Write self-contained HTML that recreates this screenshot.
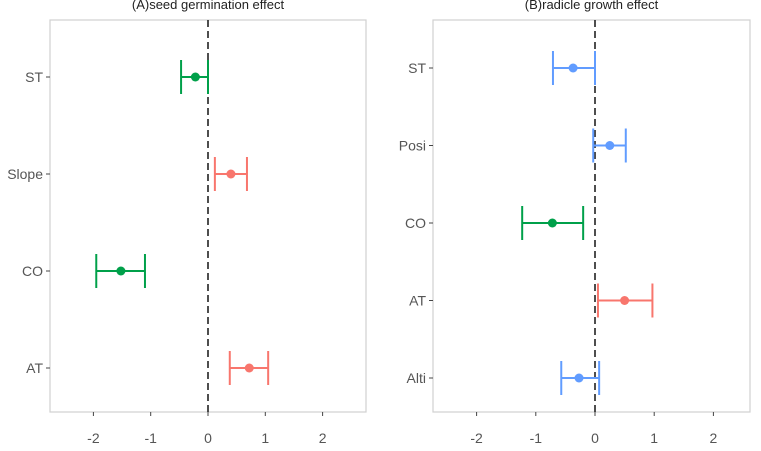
<!DOCTYPE html>
<html><head><meta charset="utf-8"><style>
body{margin:0;background:#fff;font-family:"Liberation Sans",sans-serif}
</style></head><body>
<svg id="c" width="761" height="446" xmlns="http://www.w3.org/2000/svg"></svg>
<script>
const ticks=[-2,-1,0,1,2];
const catsA=["ST","Slope","CO","AT"];
const estA=[-0.22,0.40,-1.52,0.72];
const loA=[-0.47,0.12,-1.95,0.38];
const hiA=[0.0,0.68,-1.10,1.05];
const colA=["#00a04a","#f8766d","#00a04a","#f8766d"];
const catsB=["ST","Posi","CO","AT","Alti"];
const estB=[-0.37,0.25,-0.72,0.50,-0.27];
const loB=[-0.71,-0.03,-1.23,0.05,-0.57];
const hiB=[0.0,0.52,-0.20,0.97,0.07];
const colB=["#619cff","#619cff","#00a04a","#f8766d","#619cff"];
const svg=document.getElementById('c');
const NS="http://www.w3.org/2000/svg";
function mk(t,a,p){const e=document.createElementNS(NS,t);for(const k in a)e.setAttribute(k,a[k]);(p||svg).appendChild(e);return e;}
function panel(name,title,L,R,T,B,x0,ppu,cats,ys,est,lo,hi,col){
  const g=mk('g',{});
  
  
  const fr=mk('rect',{x:L,y:T,width:R-L,height:B-T,fill:'none',stroke:'#d0d0d0','stroke-width':1.2},g);
  
  
  const xs=v=>x0+v*ppu;
  const t=mk('text',{x:(L+R)/2,y:9,'text-anchor':'middle','font-size':13,fill:'#222'},g);t.textContent=title;
  
  
  ticks.forEach(v=>{
    mk('line',{x1:xs(v),x2:xs(v),y1:B,y2:B+4,stroke:'#444'},g);
    const tx=mk('text',{x:xs(v),y:B+31,'text-anchor':'middle','font-size':14,fill:'#555'},g);tx.textContent=v;
    
    
  });
  const z=mk('line',{x1:xs(0),x2:xs(0),y1:T,y2:B,stroke:'#222','stroke-width':1.6,'stroke-dasharray':'7,4'},g);
  
  
  cats.forEach((c,i)=>{
    const y=ys[i];
    mk('line',{x1:L-4,x2:L,y1:y,y2:y,stroke:'#444'},g);
    const lb=mk('text',{x:L-7,y:y+5,'text-anchor':'end','font-size':14,fill:'#555'},g);lb.textContent=c;
    
    
    const eb=mk('g',{stroke:col[i],'stroke-width':2},g);
    
    
    mk('line',{x1:xs(lo[i]),x2:xs(hi[i]),y1:y,y2:y},eb);
    mk('line',{x1:xs(lo[i]),x2:xs(lo[i]),y1:y-17,y2:y+17},eb);
    mk('line',{x1:xs(hi[i]),x2:xs(hi[i]),y1:y-17,y2:y+17},eb);
    const p=mk('circle',{cx:xs(est[i]),cy:y,r:4.5,fill:col[i]},g);
    
    
  });
}
const ysA=catsA.map((c,i)=>77+i*97);
const ysB=catsB.map((c,i)=>68+i*77.5);
panel('panel-a','(A)seed germination effect',50,366,20,412,208,57.3,catsA,ysA,estA,loA,hiA,colA);
panel('panel-b','(B)radicle growth effect',433,750,20,412,595,59.2,catsB,ysB,estB,loB,hiB,colB);
</script>
</body></html>
